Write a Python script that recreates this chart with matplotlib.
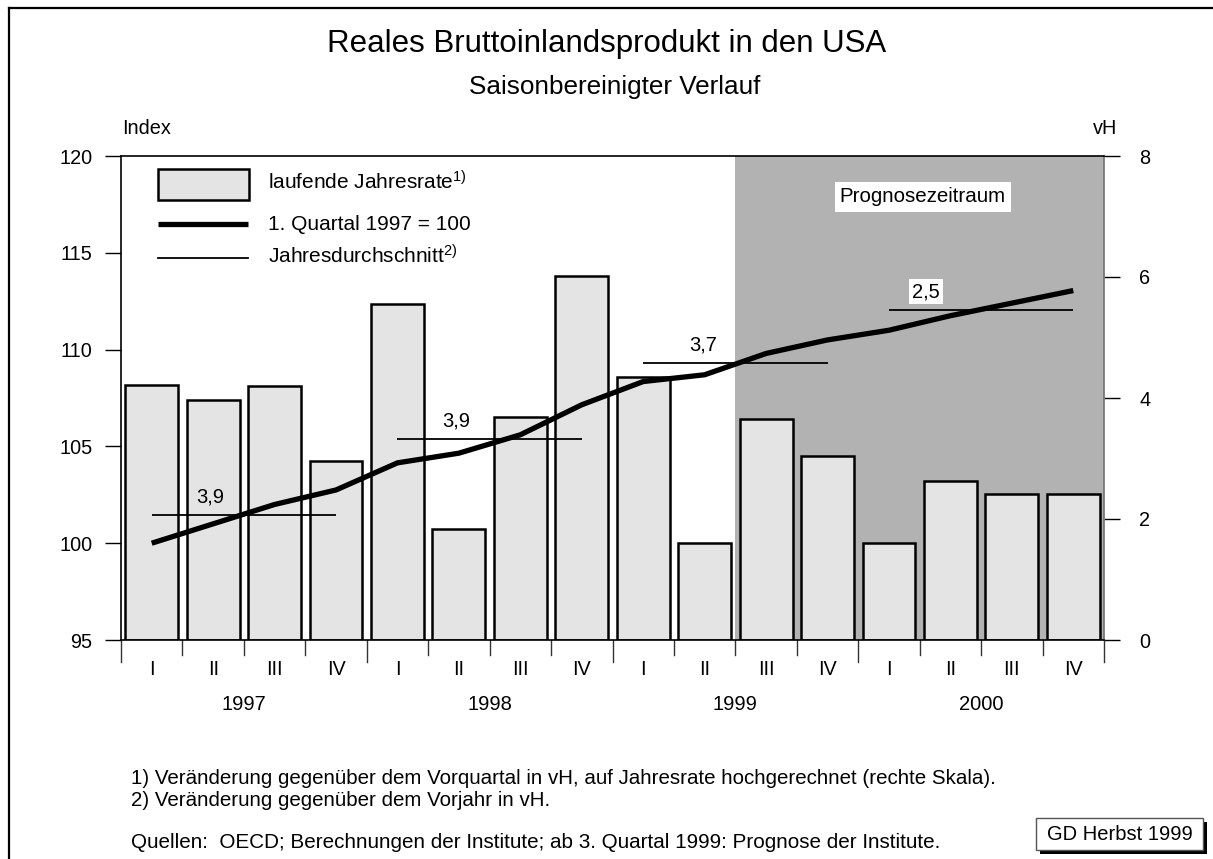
import matplotlib
matplotlib.use('Agg')
import matplotlib.pyplot as plt
import matplotlib.transforms as mtransforms
from matplotlib.lines import Line2D
from matplotlib.patches import Rectangle

plt.rcParams['font.family'] = ['Liberation Sans', 'DejaVu Sans']
plt.rcParams['mathtext.fontset'] = 'custom'
plt.rcParams['mathtext.rm'] = 'Liberation Sans'
plt.rcParams['mathtext.it'] = 'Liberation Sans'
plt.rcParams['mathtext.bf'] = 'Liberation Sans'

# ---------------- data ----------------
years = ['1997', '1998', '1999', '2000']
quarters = ['I', 'II', 'III', 'IV'] * 4
rate = [4.22, 3.96, 4.20, 2.96, 5.56, 1.84, 3.68, 6.02,
        4.34, 1.61, 3.66, 3.04, 1.60, 2.62, 2.42, 2.42]          # vH (right scale)
index = [100.0, 101.0, 102.0, 102.75, 104.15, 104.65, 105.6, 107.15,
         108.35, 108.7, 109.8, 110.5, 111.0, 111.75, 112.4, 113.05]  # 1. Quartal 1997 = 100
annual_level = [101.45, 105.4, 109.3, 112.05]   # height of annual average line (index scale)
annual_label = ['3,9', '3,9', '3,7', '2,5']      # Jahresdurchschnitt in vH
forecast_start = 10                              # first forecast quarter (1999 III)

# ---------------- layout ----------------
W, H = 1213, 859
fig = plt.figure(figsize=(W / 100, H / 100), dpi=100)
fig.patch.set_facecolor('white')

def fx(px):
    return px / W

def fy(py):
    return 1 - py / H

x0, x1, ytop, ybot = 121, 1104, 156, 640
ax = fig.add_axes([fx(x0), fy(ybot), fx(x1) - fx(x0), fy(ytop) - fy(ybot)])
ax2 = ax.twinx()

xs = list(range(len(rate)))
ax.set_xlim(-0.5, len(rate) - 0.5)
ax.set_ylim(0, 8)
ax2.set_ylim(95, 120)

ax.axvspan(forecast_start - 0.5, len(rate) - 0.5, color='#b2b2b2', lw=0, zorder=0)
ax.bar(xs, rate, width=0.86, color='#e4e4e4', edgecolor='black', linewidth=1.8, zorder=2)

# right scale (vH) on ax
ax.yaxis.set_ticks_position('right')
ax.yaxis.set_label_position('right')
ax.set_yticks([0, 2, 4, 6, 8])
ax.tick_params(axis='y', which='both', left=False, labelleft=False, right=True, labelright=True,
               direction='out', length=11.5, width=1.0, labelsize=14.3, pad=14, color='black')
ax.set_xticks(xs, labels=quarters)
ax.tick_params(axis='x', length=0, labelsize=14.3, pad=14.5)
for s in ['top', 'bottom']:
    ax.spines[s].set_color('black')
    ax.spines[s].set_linewidth(1.2)
ax.spines['right'].set_color('#707070')
ax.spines['right'].set_linewidth(1.2)
ax.spines['left'].set_visible(False)

# left scale (Index) on ax2
ax2.yaxis.set_ticks_position('left')
ax2.yaxis.set_label_position('left')
ax2.set_yticks([95, 100, 105, 110, 115, 120])
ax2.tick_params(axis='y', which='both', right=False, labelright=False, left=True, labelleft=True,
                direction='out', length=11.5, width=1.0, labelsize=14.3, pad=9, color='black')
for s in ['top', 'bottom', 'right']:
    ax2.spines[s].set_visible(False)
ax2.spines['left'].set_visible(True)
ax2.spines['left'].set_color('black')
ax2.spines['left'].set_linewidth(1.2)

ax2.plot(xs, index, color='black', lw=3.8, solid_joinstyle='round',
         solid_capstyle='butt', zorder=4)

label_dx = [0.95, 0.95, 0.97, 0.6]
for i, (lvl, lab) in enumerate(zip(annual_level, annual_label)):
    ax2.hlines(lvl, 4 * i, 4 * i + 3, color='black', lw=1.3, zorder=3)
    kw = {}
    if i == 3:
        kw['bbox'] = dict(boxstyle='square,pad=0.15', facecolor='white', edgecolor='none')
    ax2.annotate(lab, xy=(4 * i + label_dx[i], lvl), xytext=(0, 13),
                 textcoords='offset points', ha='center', va='center',
                 fontsize=14.5, zorder=5, **kw)

trans = mtransforms.blended_transform_factory(ax.transData, ax.transAxes)
ph = ybot - ytop
for b in range(len(rate) + 1):
    xb = b - 0.5
    L = 22 / ph if b % 4 == 0 else 15 / ph
    ax.plot([xb, xb], [0, -L], transform=trans, clip_on=False, color='#333333', lw=1.0)
for i, yr in enumerate(years):
    ax.text(4 * i + 1.5, -64 / ph, yr, transform=trans, ha='center', va='center', fontsize=14.5)

ax.text(12.55, (ybot - 197) / ph, 'Prognosezeitraum', transform=trans, ha='center', va='center',
        fontsize=14.8, zorder=6,
        bbox=dict(boxstyle='square,pad=0.25', facecolor='white', edgecolor='none'))

# ---------------- legend (manual) ----------------
fig.add_artist(Rectangle((fx(158), fy(200)), fx(249) - fx(158), fy(169) - fy(200),
                         transform=fig.transFigure, facecolor='#e4e4e4', edgecolor='black', lw=1.8))
fig.add_artist(Line2D([fx(158), fx(248)], [fy(224), fy(224)], color='black', lw=3.8,
                      solid_capstyle='butt'))
fig.add_artist(Line2D([fx(158), fx(248)], [fy(257.5), fy(257.5)], color='black', lw=1.3))
fig.text(fx(268), fy(190), 'laufende Jahresrate$^{\\mathrm{1)}}$', fontsize=15, va='baseline')
fig.text(fx(268), fy(230), '1. Quartal 1997 = 100', fontsize=15, va='baseline')
fig.text(fx(268), fy(264), 'Jahresdurchschnitt$^{\\mathrm{2)}}$', fontsize=15, va='baseline')

# ---------------- titles and notes ----------------
fig.text(0.5, fy(44), 'Reales Bruttoinlandsprodukt in den USA', ha='center', va='center', fontsize=22.5)
fig.text(fx(615), fy(87), 'Saisonbereinigter Verlauf', ha='center', va='center', fontsize=18.8)
fig.text(fx(122), fy(129), 'Index', ha='left', va='center', fontsize=14.3)
fig.text(fx(1117), fy(129), 'vH', ha='right', va='center', fontsize=14.3)

fig.text(fx(131), fy(778), '1) Veränderung gegenüber dem Vorquartal in vH, auf Jahresrate hochgerechnet (rechte Skala).',
         ha='left', va='center', fontsize=14.75)
fig.text(fx(131), fy(801), '2) Veränderung gegenüber dem Vorjahr in vH.', ha='left', va='center', fontsize=14.75)
fig.text(fx(131), fy(843), 'Quellen:  OECD; Berechnungen der Institute; ab 3. Quartal 1999: Prognose der Institute.',
         ha='left', va='center', fontsize=14.9)

fig.add_artist(Rectangle((fx(1040), fy(854)), fx(1207) - fx(1040), fy(822) - fy(854),
                         transform=fig.transFigure, facecolor='black', edgecolor='black', lw=0))
fig.add_artist(Rectangle((fx(1036), fy(850)), fx(1203) - fx(1036), fy(818) - fy(850),
                         transform=fig.transFigure, facecolor='white', edgecolor='#555555', lw=1.0))
fig.text(fx(1119.5), fy(834), 'GD Herbst 1999', ha='center', va='center', fontsize=14.5)

# outer frame (top and left edges visible)
fig.add_artist(Line2D([fx(9), 1.0], [fy(7.5), fy(7.5)], color='black', lw=1.6))
fig.add_artist(Line2D([fx(9), fx(9)], [0.0, fy(7.5)], color='black', lw=1.6))

fig.savefig('out.png', dpi=100)
